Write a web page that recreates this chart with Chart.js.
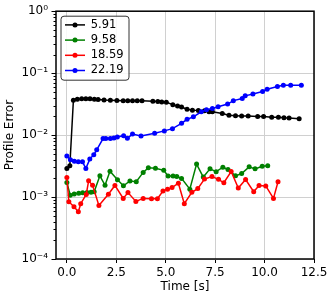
<!DOCTYPE html>
<html>
<head>
<meta charset="utf-8">
<script src="https://cdn.jsdelivr.net/npm/chart.js@4/dist/chart.umd.min.js"></script>
<style>
  html, body { margin: 0; padding: 0; background: #fff; }
</style>
</head>
<body>
<canvas id="chart" width="332" height="299"></canvas>
<script>
const LABELS = ['5.91', '9.58', '18.59', '22.19']
const COLORS = ['#000000', '#008000', '#ff0000', '#0000ff']

const T_591 = [0.0, 0.15, 0.33, 0.53, 0.75, 0.96, 1.17, 1.39, 1.58, 1.88, 2.2, 2.53, 2.85, 3.08, 3.32, 3.56, 3.8, 4.35, 4.6, 4.8,
  5.03, 5.36, 5.6, 5.8, 6.08, 6.35, 6.65, 6.96, 7.19, 7.36, 7.86, 8.2, 8.53, 8.84, 9.17, 9.65, 9.95, 10.36, 10.7, 10.98, 11.24, 11.75]
const E_591 = [0.0029, 0.0032, 0.0365, 0.0378, 0.0385, 0.0387, 0.0386, 0.038, 0.0376, 0.0367, 0.0365, 0.0362, 0.036, 0.036, 0.036, 0.0358, 0.0357, 0.0352, 0.0348, 0.0343,
  0.0338, 0.031, 0.0294, 0.0284, 0.0262, 0.0253, 0.025, 0.0247, 0.0239, 0.0238, 0.0224, 0.021, 0.0206, 0.0203, 0.0203, 0.02, 0.02, 0.0195, 0.0195, 0.0191, 0.0189, 0.0184]

const T_958 = [0.0, 0.17, 0.37, 0.6, 0.8, 1.02, 1.22, 1.38, 1.67, 1.93, 2.18, 2.56, 2.86, 3.19, 3.51, 3.86, 4.12, 4.48, 4.9, 5.12,
  5.37, 5.56, 5.8, 6.22, 6.56, 6.9, 7.24, 7.55, 7.89, 8.15, 8.53, 8.84, 9.22, 9.52, 9.88, 10.16]
const E_958 = [0.00172, 0.00107, 0.00112, 0.00115, 0.00117, 0.00118, 0.0012, 0.00122, 0.0022, 0.00155, 0.00262, 0.0019, 0.00152, 0.00182, 0.00177, 0.0025, 0.00297, 0.00292, 0.0027, 0.00219,
  0.00219, 0.00215, 0.002, 0.00134, 0.0034, 0.0021, 0.00285, 0.00257, 0.00303, 0.00279, 0.0022, 0.0024, 0.00307, 0.00285, 0.00313, 0.0032]

const T_1859 = [0.0, 0.1, 0.36, 0.58, 0.7, 0.98, 1.1, 1.3, 1.62, 2.1, 2.43, 2.85, 3.09, 3.49, 3.86, 4.28, 4.58, 4.86, 5.09, 5.32,
  5.64, 5.94, 6.32, 6.62, 6.96, 7.34, 7.67, 7.94, 8.31, 8.67, 9.04, 9.45, 9.72, 10.06, 10.45, 10.68]
const E_1859 = [0.00207, 0.00084, 0.0007, 0.00058, 0.00078, 0.0011, 0.00183, 0.00155, 0.00073, 0.00111, 0.00154, 0.00095, 0.00118, 0.00085, 0.00095, 0.00094, 0.00094, 0.00125, 0.00134, 0.00142,
  0.00167, 0.00078, 0.00119, 0.00137, 0.00195, 0.00215, 0.00193, 0.0017, 0.00258, 0.0014, 0.00192, 0.00122, 0.00154, 0.00151, 0.00095, 0.00177]

const T_2219 = [0.0, 0.18, 0.38, 0.58, 0.79, 0.96, 1.16, 1.36, 1.51, 1.83, 1.97, 2.2, 2.38, 2.55, 2.87, 3.06, 3.32, 3.75, 4.44, 4.93,
  5.34, 5.8, 6.08, 6.4, 6.8, 7.06, 7.36, 7.65, 8.13, 8.42, 8.87, 9.02, 9.41, 9.9, 10.13, 10.65, 10.95, 11.32, 11.86]
const E_2219 = [0.0046, 0.004, 0.0038, 0.0037, 0.0037, 0.0029, 0.0041, 0.0048, 0.0058, 0.0088, 0.0088, 0.0088, 0.009, 0.0093, 0.0098, 0.0089, 0.0104, 0.0097, 0.0107, 0.0117,
  0.0127, 0.0155, 0.018, 0.0197, 0.0238, 0.0256, 0.0269, 0.0287, 0.0317, 0.036, 0.039, 0.043, 0.046, 0.0505, 0.055, 0.0608, 0.0637, 0.0637, 0.0637]

const X_TICKS = [0, 2.5, 5, 7.5, 10, 12.5]
const X_TICK_LABELS = ['0.0', '2.5', '5.0', '7.5', '10.0', '12.5']
const Y_DECADES = [1e-4, 1e-3, 1e-2, 1e-1, 1]
const Y_TICK_LABELS = ['10\u207B\u2074', '10\u207B\u00B3', '10\u207B\u00B2', '10\u207B\u00B9', '10\u2070']

const FONT = 'DejaVu Sans'
const GRID = '#d0d0d0'

// log axis: decades plus the 2..9 minors in between
const yTicks = []
Y_DECADES.forEach((d, i) => {
  yTicks.push(d)
  if (i < Y_DECADES.length - 1) for (let m = 2; m <= 9; m++) yTicks.push(d * m)
})

function decadeIndex(v) {
  return Y_DECADES.findIndex(d => Math.abs(Math.log10(v) - Math.log10(d)) < 1e-6)
}

function series(i, ts, vs) {
  return {
    label: LABELS[i],
    data: ts.map((t, k) => ({ x: t, y: vs[k] })),
    borderColor: COLORS[i],
    backgroundColor: COLORS[i],
    borderWidth: 1.5,
    pointRadius: 2.5,
    pointBorderWidth: 0,
    pointHoverRadius: 2.5,
    tension: 0,
    order: LABELS.length - i,
  }
}

// matplotlib-style y ticks: long on decades, short on minors
const yTickMarks = {
  id: 'yTickMarks',
  afterDraw(chart) {
    const { ctx, chartArea: a, scales } = chart
    ctx.save()
    ctx.strokeStyle = '#000'
    ctx.lineWidth = 1
    scales.y.ticks.forEach(t => {
      const y = Math.round(scales.y.getPixelForValue(t.value)) + 0.5
      const len = decadeIndex(t.value) >= 0 ? 4.5 : 2.5
      ctx.beginPath()
      ctx.moveTo(a.left - len, y)
      ctx.lineTo(a.left, y)
      ctx.stroke()
    })
    ctx.restore()
  },
}

const frame = {
  id: 'frame',
  afterDatasetsDraw(chart) {
    const { ctx, chartArea: a } = chart
    ctx.save()
    ctx.strokeStyle = '#000'
    ctx.lineWidth = 1.5
    ctx.strokeRect(a.left, a.top, a.right - a.left, a.bottom - a.top)
    ctx.restore()
  },
}

const legendBox = {
  id: 'legendBox',
  afterDatasetsDraw(chart) {
    const { ctx, chartArea: a } = chart
    const x0 = a.left + 5, y0 = a.top + 5, w = 68, h = 64
    ctx.save()
    ctx.beginPath()
    ctx.roundRect(x0, y0, w, h, 3)
    ctx.fillStyle = 'rgba(255,255,255,0.85)'
    ctx.fill()
    ctx.strokeStyle = '#333'
    ctx.lineWidth = 1
    ctx.stroke()
    chart.data.datasets.forEach((ds, i) => {
      const y = y0 + 8.7 + i * 15.2
      ctx.strokeStyle = ds.borderColor
      ctx.lineWidth = 1.5
      ctx.beginPath()
      ctx.moveTo(x0 + 4, y)
      ctx.lineTo(x0 + 24, y)
      ctx.stroke()
      ctx.fillStyle = ds.borderColor
      ctx.beginPath()
      ctx.arc(x0 + 14, y, 2.5, 0, Math.PI * 2)
      ctx.fill()
      ctx.fillStyle = '#000'
      ctx.font = `11.5px "${FONT}"`
      ctx.textBaseline = 'middle'
      ctx.fillText(ds.label, x0 + 29.7, y)
    })
    ctx.restore()
  },
}

Chart.defaults.color = '#000'
Chart.defaults.font.family = FONT

new Chart(document.getElementById('chart'), {
  type: 'line',
  data: {
    datasets: [
      series(0, T_591, E_591),
      series(1, T_958, E_958),
      series(2, T_1859, E_1859),
      series(3, T_2219, E_2219),
    ],
  },
  options: {
    responsive: false,
    animation: false,
    events: [],
    layout: { autoPadding: false, padding: { left: 0, right: 18, top: 9, bottom: 0 } },
    plugins: { legend: { display: false }, tooltip: { enabled: false } },
    scales: {
      x: {
        type: 'linear',
        min: -0.55,
        max: 12.5,
        afterBuildTicks: s => { s.ticks = X_TICKS.map(v => ({ value: v })) },
        afterFit: s => { s.height = 40 },
        grid: { color: GRID, lineWidth: 1, tickColor: '#000', tickLength: 4 },
        border: { display: false },
        ticks: {
          autoSkip: false,
          maxRotation: 0,
          padding: 3,
          font: { size: 12 },
          callback: v => X_TICK_LABELS[X_TICKS.indexOf(v)],
        },
        title: { display: true, text: 'Time [s]', font: { size: 12 }, padding: { top: 0, bottom: 5 } },
      },
      y: {
        type: 'logarithmic',
        min: 1e-4,
        max: 1,
        afterBuildTicks: s => { s.ticks = yTicks.map(v => ({ value: v })) },
        afterFit: s => { s.width = 56 },
        grid: {
          color: c => (c.tick && decadeIndex(c.tick.value) >= 0 ? GRID : 'rgba(0,0,0,0)'),
          lineWidth: 1,
          tickColor: 'rgba(0,0,0,0)',
          tickLength: 4,
        },
        border: { display: false },
        ticks: {
          autoSkip: false,
          padding: 4,
          font: { size: 12 },
          callback: v => {
            const i = decadeIndex(v)
            return i >= 0 ? Y_TICK_LABELS[i] : ''
          },
        },
        title: { display: true, text: 'Profile Error', font: { size: 12 }, padding: { top: 3, bottom: 0 } },
      },
    },
  },
  plugins: [frame, legendBox, yTickMarks],
})
</script>
</body>
</html>
